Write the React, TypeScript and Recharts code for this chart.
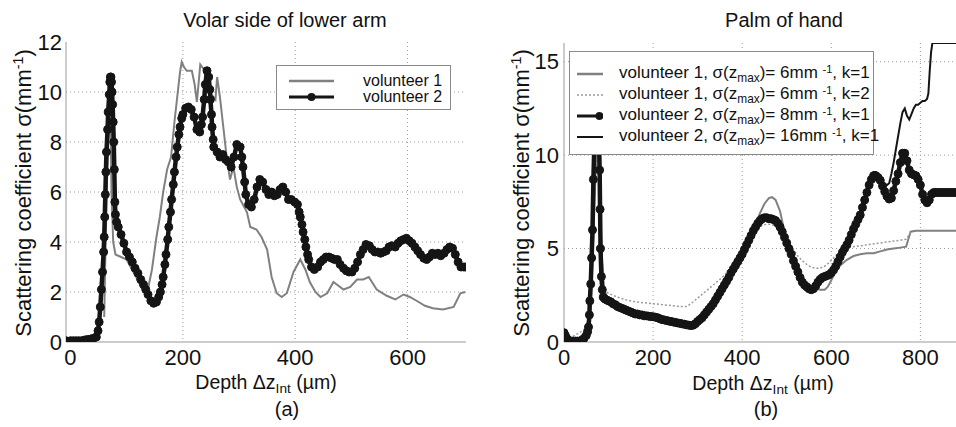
import React from "react";
import { LineChart, Line, XAxis, YAxis, CartesianGrid } from "recharts";

type Pt = [number, number];

// Panel (a): volar side of lower arm
const armTicksX = [0, 200, 400, 600];
const armTicksY = [0, 2, 4, 6, 8, 10, 12];

const armVol1: Pt[] = [
  [60, 1.0], [64, 5.8], [68, 8.5], [71, 9.2], [73, 6.0], [76, 4.0], [80, 3.5], [90, 3.4], [100, 3.3],
  [107, 3.0], [117, 2.6], [128, 2.1], [136, 1.9], [145, 2.9], [153, 4.2], [159, 5.0], [165, 6.0],
  [172, 6.9], [179, 7.4], [185, 8.8], [190, 9.8], [195, 10.8], [198, 11.2], [202, 11.0], [207, 10.85],
  [216, 10.85], [221, 10.3], [225, 9.6], [231, 11.1], [239, 10.85], [245, 10.2], [251, 9.9], [258, 9.7],
  [261, 10.6], [266, 9.8], [273, 8.4], [278, 7.4], [284, 6.5], [290, 7.0], [296, 6.2], [302, 5.7],
  [314, 5.2], [320, 4.6], [331, 4.5], [340, 4.2], [350, 3.7], [358, 2.6], [367, 1.95], [376, 1.8],
  [385, 1.95], [397, 2.8], [409, 3.3], [418, 2.9], [426, 2.4], [436, 2.0], [445, 1.8], [457, 1.95],
  [468, 2.4], [474, 2.3], [486, 2.1], [498, 2.2], [510, 2.5], [521, 2.5], [531, 2.6], [545, 2.1],
  [563, 1.85], [578, 1.7], [593, 1.9], [604, 1.8], [616, 1.65], [631, 1.45], [645, 1.35], [663, 1.3],
  [682, 1.4], [694, 1.95], [703, 2.0],
];

const armVol2: Pt[] = [
  [-8, 0.05], [0, 0.05], [5, 0.05], [10, 0.05], [15, 0.05], [20, 0.05], [25, 0.08], [30, 0.1], [36, 0.12],
  [41, 0.15], [46, 0.2], [49, 0.45], [51, 0.8], [53, 1.4], [55, 2.1], [57, 2.8], [59, 3.6], [60, 4.2],
  [61, 5.0], [62, 5.9], [63, 6.8], [64, 7.6], [66, 8.5], [67, 9.2], [69, 9.9], [70, 10.4], [71, 10.6],
  [72, 10.6], [73, 10.4], [74, 10.0], [75, 9.5], [76, 8.8], [77, 8.0], [78, 6.9], [79, 5.6], [80, 5.1],
  [82, 4.8], [85, 4.6], [90, 4.3], [95, 3.95], [100, 3.6], [105, 3.4], [110, 3.2], [115, 2.95],
  [120, 2.75], [125, 2.5], [130, 2.3], [134, 2.1], [138, 1.9], [143, 1.65], [148, 1.55], [153, 1.6],
  [157, 1.8], [160, 2.0], [163, 2.3], [165, 2.6], [168, 3.1], [170, 3.5], [173, 4.1], [175, 4.6],
  [178, 5.2], [180, 5.7], [183, 6.3], [185, 6.8], [188, 7.4], [190, 7.8], [193, 8.3], [195, 8.6],
  [198, 8.95], [200, 9.1], [205, 9.35], [210, 9.4], [215, 9.3], [220, 9.0], [225, 8.5], [230, 8.4],
  [233, 8.7], [235, 9.0], [238, 9.7], [240, 10.3], [243, 10.85], [246, 10.6], [248, 10.1], [249, 9.7],
  [251, 9.1], [252, 8.6], [254, 8.1], [255, 7.8], [261, 7.6], [266, 7.4], [271, 7.5], [276, 7.3],
  [281, 7.2], [286, 7.0], [291, 7.4], [296, 7.9], [302, 7.8], [305, 7.4], [307, 7.0], [310, 6.4],
  [312, 5.9], [317, 5.5], [322, 5.4], [327, 5.7], [332, 6.2], [337, 6.5], [342, 6.4], [348, 6.1],
  [353, 5.9], [358, 6.0], [363, 5.85], [368, 5.9], [373, 6.1], [378, 6.2], [383, 6.0], [388, 5.7],
  [393, 5.7], [399, 5.6], [404, 5.5], [407, 5.2], [409, 5.0], [412, 4.7], [414, 4.4], [417, 4.1],
  [419, 3.8], [422, 3.5], [424, 3.3], [429, 3.0], [434, 2.9], [440, 3.0], [445, 3.2], [450, 3.3],
  [455, 3.4], [460, 3.4], [465, 3.35], [470, 3.3], [475, 3.3], [480, 3.1], [486, 2.95], [491, 2.85],
  [496, 2.8], [501, 2.8], [506, 2.95], [511, 3.2], [516, 3.5], [521, 3.7], [526, 3.9], [532, 3.85],
  [537, 3.7], [542, 3.6], [547, 3.6], [552, 3.55], [557, 3.6], [562, 3.65], [567, 3.8], [572, 3.85],
  [578, 3.8], [583, 3.95], [588, 4.05], [593, 4.1], [598, 4.15], [603, 4.05], [608, 3.95], [613, 3.8],
  [618, 3.65], [623, 3.5], [629, 3.35], [634, 3.3], [639, 3.4], [644, 3.55], [649, 3.5], [654, 3.55],
  [659, 3.45], [665, 3.55], [670, 3.7], [675, 3.8], [680, 3.75], [685, 3.5], [690, 3.2], [695, 3.0],
  [700, 3.0], [703, 3.0],
];

// Panel (b): palm of hand
const palmTicksX = [0, 200, 400, 600, 800];
const palmTicksY = [0, 5, 10, 15];

const palmVol1k1: Pt[] = [
  [0, 0.3], [10, 0.15], [20, 0.1], [30, 0.12], [40, 0.2], [50, 0.4], [55, 0.8], [60, 2.0], [65, 5.0],
  [70, 8.5], [75, 11.0], [80, 8.0], [85, 4.5], [90, 2.8], [100, 2.2], [120, 1.9], [150, 1.6], [200, 1.35],
  [250, 1.05], [285, 0.9], [300, 1.1], [320, 1.6], [340, 2.3], [360, 3.1], [380, 3.9], [400, 4.7],
  [420, 5.7], [440, 6.9], [450, 7.4], [460, 7.7], [467, 7.75], [475, 7.6], [485, 7.0], [495, 5.9],
  [505, 5.0], [515, 4.35], [525, 3.85], [535, 3.45], [545, 3.15], [555, 2.95], [565, 2.85], [575, 2.8],
  [585, 2.8], [592, 2.95], [600, 3.3], [610, 3.8], [620, 4.1], [635, 4.4], [650, 4.6], [665, 4.7],
  [680, 4.75], [695, 4.75], [710, 4.85], [725, 4.95], [740, 5.0], [755, 5.05], [768, 5.1], [773, 5.5],
  [778, 5.9], [790, 5.95], [820, 5.95], [850, 5.95], [880, 5.95],
];

const palmVol1k2: Pt[] = [
  [20, 0.3], [35, 0.5], [45, 0.65], [55, 1.2], [60, 2.5], [65, 5.5], [70, 9.0], [75, 11.0], [80, 8.0],
  [85, 4.5], [90, 3.0], [95, 2.7], [100, 2.6], [120, 2.4], [140, 2.25], [160, 2.15], [180, 2.1],
  [200, 2.05], [220, 2.0], [240, 1.95], [260, 1.9], [275, 1.9], [285, 2.05], [295, 2.25], [305, 2.45],
  [315, 2.65], [325, 2.85], [335, 3.05], [345, 3.25], [355, 3.45], [365, 3.7], [375, 4.0], [385, 4.3],
  [395, 4.6], [405, 4.95], [415, 5.35], [425, 5.75], [435, 6.05], [445, 6.25], [455, 6.3], [465, 6.3],
  [475, 6.2], [485, 6.0], [495, 5.65], [505, 5.3], [515, 4.95], [525, 4.6], [535, 4.35], [545, 4.15],
  [555, 4.0], [565, 3.95], [575, 3.95], [585, 4.05], [595, 4.25], [605, 4.5], [615, 4.75], [625, 4.95],
  [635, 5.05], [650, 5.1], [665, 5.15], [680, 5.2], [695, 5.25], [710, 5.3], [725, 5.35], [740, 5.4],
  [755, 5.45], [768, 5.5], [775, 5.75], [782, 5.95],
];

const palmVol2s8: Pt[] = [
  [0, 0.5], [3, 0.35], [6, 0.2], [10, 0.1], [15, 0.05], [20, 0.05], [25, 0.05], [30, 0.05], [35, 0.05],
  [40, 0.1], [45, 0.2], [50, 0.35], [53, 0.55], [55, 0.8], [57, 1.45], [58, 2.2], [60, 3.1], [62, 4.5],
  [64, 6.0], [66, 8.7], [68, 10.5], [71, 12.5], [74, 13.5], [77, 12.5], [79, 10.5], [80, 9.2], [81, 7.1],
  [82, 5.0], [84, 3.5], [86, 2.8], [88, 2.4], [92, 2.3], [96, 2.25], [100, 2.2], [105, 2.15], [110, 2.05],
  [115, 2.0], [120, 1.9], [125, 1.85], [130, 1.8], [135, 1.75], [140, 1.7], [145, 1.65], [150, 1.6],
  [155, 1.55], [160, 1.5], [165, 1.5], [170, 1.45], [175, 1.45], [180, 1.4], [185, 1.4], [190, 1.38],
  [195, 1.36], [200, 1.35], [205, 1.33], [210, 1.3], [215, 1.25], [220, 1.2], [225, 1.18], [230, 1.15],
  [235, 1.12], [240, 1.1], [245, 1.07], [250, 1.05], [255, 1.02], [260, 1.0], [265, 0.97], [270, 0.95],
  [275, 0.92], [280, 0.9], [285, 0.88], [290, 0.9], [295, 0.98], [300, 1.1], [305, 1.2], [310, 1.3],
  [315, 1.45], [320, 1.6], [325, 1.75], [330, 1.9], [335, 2.05], [340, 2.25], [345, 2.45], [350, 2.65],
  [355, 2.85], [360, 3.05], [365, 3.25], [370, 3.45], [375, 3.7], [380, 3.9], [385, 4.1], [390, 4.3],
  [395, 4.5], [400, 4.7], [405, 4.95], [410, 5.2], [415, 5.45], [420, 5.7], [425, 5.95], [430, 6.15],
  [435, 6.35], [440, 6.5], [445, 6.6], [450, 6.65], [455, 6.65], [460, 6.6], [465, 6.6], [470, 6.55],
  [475, 6.5], [480, 6.35], [485, 6.15], [490, 5.9], [495, 5.6], [500, 5.3], [505, 5.0], [510, 4.7],
  [515, 4.35], [520, 4.05], [525, 3.75], [530, 3.45], [535, 3.2], [540, 3.05], [545, 2.95], [550, 2.85],
  [555, 2.8], [560, 2.85], [565, 3.0], [570, 3.2], [575, 3.35], [580, 3.45], [585, 3.5], [590, 3.55],
  [595, 3.6], [600, 3.7], [605, 3.85], [610, 4.05], [615, 4.3], [620, 4.55], [625, 4.8], [630, 5.0],
  [635, 5.2], [640, 5.45], [645, 5.75], [650, 6.05], [655, 6.3], [660, 6.55], [665, 6.8], [670, 7.2],
  [675, 7.6], [680, 8.0], [685, 8.4], [690, 8.7], [695, 8.9], [700, 8.9], [705, 8.8], [710, 8.65],
  [715, 8.35], [720, 8.05], [725, 7.8], [730, 7.65], [735, 7.7], [740, 8.1], [745, 8.6], [750, 9.0],
  [755, 9.6], [760, 10.1], [765, 10.1], [770, 9.7], [775, 9.2], [780, 9.0], [785, 8.95], [790, 8.9],
  [795, 8.7], [800, 8.4], [805, 7.9], [810, 7.6], [815, 7.45], [820, 7.6], [825, 7.9], [830, 8.0],
  [835, 8.0], [840, 8.0], [845, 8.0], [850, 8.0], [855, 8.0], [860, 8.0], [865, 8.0], [870, 8.0],
  [875, 8.0], [880, 8.0],
];

// the 16 mm^-1 fit follows the 8 mm^-1 one up to ~690 um, then splits off
const palmVol2s16Tail: Pt[] = [
  [690, 8.9], [695, 9.1], [700, 9.1], [705, 9.0], [710, 8.8], [715, 8.6], [720, 8.45], [725, 8.4],
  [730, 8.5], [735, 9.0], [740, 9.6], [745, 10.3], [750, 11.0], [755, 11.7], [760, 12.3], [765, 12.5],
  [770, 12.1], [775, 11.9], [780, 12.2], [785, 12.5], [790, 12.7], [795, 12.7], [800, 12.8], [805, 12.9],
  [810, 12.9], [815, 13.0], [818, 13.3], [821, 14.5], [824, 15.5], [827, 16], [880, 16],
];
const palmVol2s16: Pt[] = [...palmVol2s8.filter(([x]) => x < 690), ...palmVol2s16Tail];

const rows = (pts: Pt[]) => pts.map(([x, y]) => ({ x, y }));

const FONT = "'Liberation Sans', Arial, Helvetica, sans-serif";
const GRAY = "#808080";
const BLACK = "#151515";
const tickStyle = { fontSize: 22, fill: "#111", fontFamily: FONT };
const frame = { stroke: "#9a9a9a", strokeWidth: 1 };
const dotStyle = { r: 4, fill: BLACK, stroke: BLACK, strokeWidth: 1 };

const centered = (cx: number, cy: number, size: number, extra: React.CSSProperties = {}): React.CSSProperties => ({
  position: "absolute",
  left: cx,
  top: cy,
  transform: "translate(-50%, -50%)",
  whiteSpace: "nowrap",
  lineHeight: 1,
  fontSize: size,
  ...extra,
});

const sub: React.CSSProperties = { fontSize: "0.7em", verticalAlign: "-0.3em" };
const sup: React.CSSProperties = { fontSize: "0.65em", verticalAlign: "0.5em" };

const YLabel = ({ cx }: { cx: number }) => (
  <div style={centered(cx, 193, 22, { transform: "translate(-50%, -50%) rotate(-90deg)" })}>
    Scattering coefficient σ(mm<span style={sup}>-1</span>)
  </div>
);

const XLabel = ({ cx, cy }: { cx: number; cy: number }) => (
  <div style={centered(cx, cy, 19.5)}>
    Depth Δz<span style={sub}>Int</span> (µm)
  </div>
);

type Kind = "gray" | "dotted" | "dots" | "thin";

const Sample = ({ kind }: { kind: Kind }) => (
  <svg width={45} height={12} style={{ display: "block" }}>
    {kind === "gray" && <line x1={0} y1={6} x2={45} y2={6} stroke={GRAY} strokeWidth={2.5} />}
    {kind === "dotted" && <line x1={0} y1={6} x2={45} y2={6} stroke="#999" strokeWidth={1.5} strokeDasharray="2 2" />}
    {kind === "dots" && (
      <>
        <line x1={0} y1={6} x2={45} y2={6} stroke={BLACK} strokeWidth={3} />
        <circle cx={22.5} cy={6} r={4} fill={BLACK} />
      </>
    )}
    {kind === "thin" && <line x1={0} y1={6} x2={45} y2={6} stroke={BLACK} strokeWidth={2} />}
  </svg>
);

const armLegend: { kind: Kind; label: string }[] = [
  { kind: "gray", label: "volunteer 1" },
  { kind: "dots", label: "volunteer 2" },
];

const palmLegend: { kind: Kind; who: string; sigma: string; k: string }[] = [
  { kind: "gray", who: "volunteer 1", sigma: "6mm", k: "1" },
  { kind: "dotted", who: "volunteer 1", sigma: "6mm", k: "2" },
  { kind: "dots", who: "volunteer 2", sigma: "8mm", k: "1" },
  { kind: "thin", who: "volunteer 2", sigma: "16mm", k: "1" },
];

export default function App() {
  return (
    <div
      style={{
        position: "absolute",
        left: 0,
        top: 0,
        width: 956,
        height: 427,
        background: "#fff",
        overflow: "hidden",
        fontFamily: FONT,
        color: "#111",
      }}
    >
      {/* (a) volar side of lower arm */}
      <div style={{ position: "absolute", left: 0, top: 0 }}>
        <LineChart width={480} height={427} margin={{ top: 42, right: 14, bottom: 55, left: 26 }}>
          <CartesianGrid stroke="#999" strokeDasharray="1 3" verticalValues={[200, 400, 600]} horizontalValues={[2, 4, 6, 8, 10]} />
          <XAxis type="number" dataKey="x" domain={[-8, 704]} ticks={armTicksX} allowDataOverflow height={30}
            tickLine={false} tickSize={0} tickMargin={7} axisLine={frame} tick={tickStyle} />
          <XAxis xAxisId="top" orientation="top" type="number" dataKey="x" domain={[-8, 704]} allowDataOverflow
            height={0} tick={false} tickLine={false} axisLine={frame} />
          <YAxis type="number" domain={[0, 12]} ticks={armTicksY} allowDataOverflow width={40}
            tickLine={false} tickSize={0} tickMargin={4} axisLine={frame} tick={tickStyle} />
          <YAxis yAxisId="right" orientation="right" type="number" domain={[0, 12]} width={0}
            tick={false} tickLine={false} axisLine={frame} />
          <Line data={rows(armVol1)} dataKey="y" type="linear" stroke={GRAY} strokeWidth={2} dot={false} isAnimationActive={false} />
          <Line data={rows(armVol2)} dataKey="y" type="linear" stroke={BLACK} strokeWidth={4.5} dot={dotStyle} isAnimationActive={false} />
        </LineChart>
      </div>

      {/* (b) palm of hand */}
      <div style={{ position: "absolute", left: 476, top: 0 }}>
        <LineChart width={480} height={427} margin={{ top: 43, right: 0, bottom: 55, left: 48 }}>
          <CartesianGrid stroke="#999" strokeDasharray="1 3" verticalValues={[200, 400, 600, 800]} horizontalValues={[5, 10, 15]} />
          <XAxis type="number" dataKey="x" domain={[0, 880]} ticks={palmTicksX} allowDataOverflow height={30}
            tickLine={false} tickSize={0} tickMargin={7} axisLine={frame} tick={tickStyle} />
          <XAxis xAxisId="top" orientation="top" type="number" dataKey="x" domain={[0, 880]} allowDataOverflow
            height={0} tick={false} tickLine={false} axisLine={frame} />
          <YAxis type="number" domain={[0, 16]} ticks={palmTicksY} allowDataOverflow width={40}
            tickLine={false} tickSize={0} tickMargin={5} axisLine={frame} tick={tickStyle} />
          <Line data={rows(palmVol1k1)} dataKey="y" type="linear" stroke={GRAY} strokeWidth={2} dot={false} isAnimationActive={false} />
          <Line data={rows(palmVol1k2)} dataKey="y" type="linear" stroke="#9a9a9a" strokeWidth={1.5} strokeDasharray="2 2" dot={false} isAnimationActive={false} />
          <Line data={rows(palmVol2s8)} dataKey="y" type="linear" stroke={BLACK} strokeWidth={4.5} dot={dotStyle} isAnimationActive={false} />
          <Line data={rows(palmVol2s16)} dataKey="y" type="linear" stroke={BLACK} strokeWidth={2} dot={false} isAnimationActive={false} />
        </LineChart>
      </div>

      {/* titles, axis labels */}
      <div style={centered(285, 20, 20)}>Volar side of lower arm</div>
      <div style={centered(784, 20, 20)}>Palm of hand</div>
      <YLabel cx={23} />
      <YLabel cx={521} />
      <XLabel cx={266} cy={384} />
      <XLabel cx={763} cy={385} />
      <div style={centered(287, 409, 20)}>(a)</div>
      <div style={centered(766, 409, 20)}>(b)</div>

      {/* legend (a) */}
      <div style={{ position: "absolute", left: 276, top: 65, width: 173, height: 43, border: "1px solid #8a8a8a", background: "#fff" }}>
        {armLegend.map((r, i) => (
          <div key={r.label} style={{ position: "absolute", left: 0, top: 15 + i * 16, width: "100%" }}>
            <div style={{ position: "absolute", left: 12, top: -6 }}><Sample kind={r.kind} /></div>
            <div style={{ position: "absolute", left: 86, top: 0, transform: "translateY(-50%)", fontSize: 16, lineHeight: 0.95, whiteSpace: "nowrap" }}>{r.label}</div>
          </div>
        ))}
      </div>

      {/* legend (b) */}
      <div style={{ position: "absolute", left: 569, top: 51, width: 303, height: 102, border: "1px solid #8a8a8a", background: "#fff" }}>
        {palmLegend.map((r, i) => (
          <div key={i} style={{ position: "absolute", left: 0, top: 22 + i * 21, width: "100%" }}>
            <div style={{ position: "absolute", left: 7, top: -6, width: 26, overflow: "hidden" }}><Sample kind={r.kind} /></div>
            <div style={{ position: "absolute", left: 49, top: 0, transform: "translateY(-50%)", fontSize: 17, lineHeight: 1, whiteSpace: "nowrap" }}>
              {r.who}, σ(z<span style={sub}>max</span>)= {r.sigma} <span style={sup}>-1</span>, k={r.k}
            </div>
          </div>
        ))}
      </div>
    </div>
  );
}
